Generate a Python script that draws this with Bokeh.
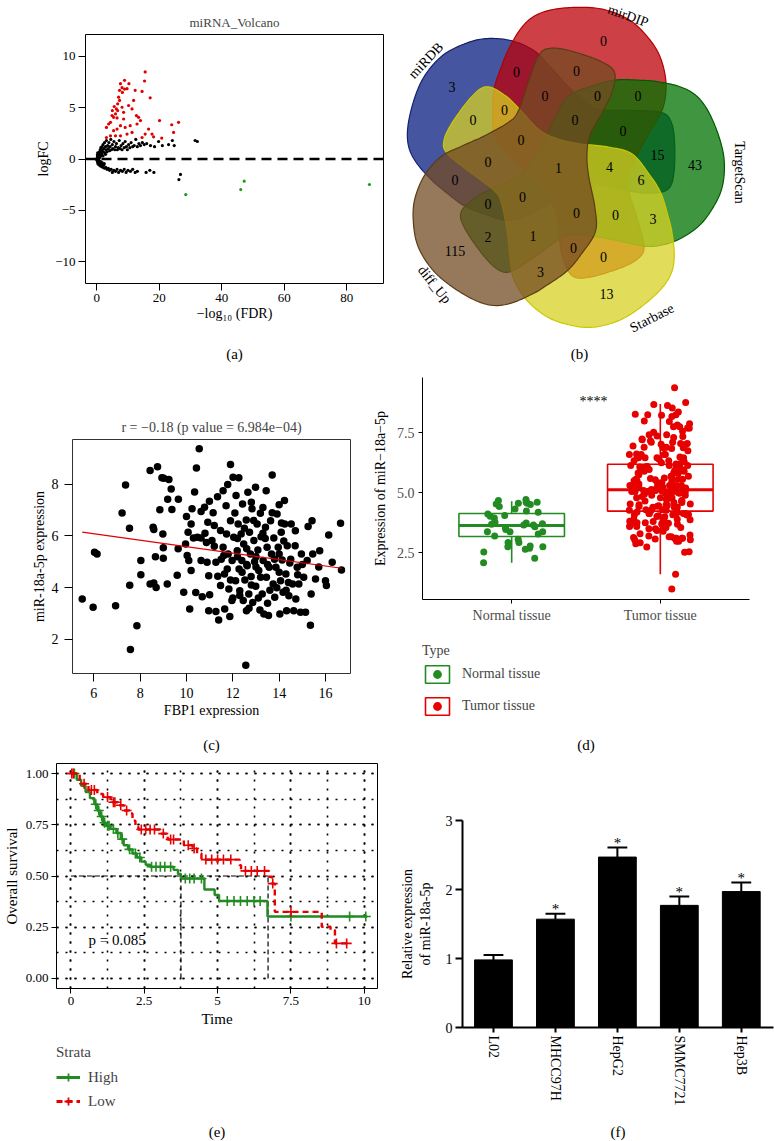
import numpy as np
from bokeh.plotting import figure
from bokeh.layouts import column, row
from bokeh.models import (Span, Legend, LegendItem, ColumnDataSource,
                          NumeralTickFormatter, SingleIntervalTicker, FixedTicker)
from bokeh.core.properties import value
from bokeh.transform import jitter
from bokeh.embed import file_html
from bokeh.resources import INLINE

FONT = "Liberation Serif"

# ---------------------------------------------------------------- data (a)
volc_up = [(15.5, 8.46), (15.3, 7.58), (8.9, 7.65), (10.3, 7.32), (7.6, 7.32), (8.1, 6.93), (8.9, 6.80),
           (8.2, 6.47), (12.3, 6.67), (14.5, 6.57), (7.0, 6.01), (7.3, 5.69), (6.7, 5.36), (6.3, 4.87),
           (6.0, 4.38), (5.4, 4.05), (4.9, 4.22), (17.1, 5.95), (10.2, 5.20), (11.3, 4.87), (8.6, 4.54),
           (12.7, 4.22), (3.8, 3.40), (3.1, 3.07), (4.4, 3.56), (5.4, 2.75), (6.5, 2.91), (7.6, 3.24),
           (8.6, 3.89), (9.1, 3.07), (10.7, 3.24), (12.9, 3.40), (14.0, 3.73), (11.3, 2.58), (9.7, 2.42),
           (7.6, 2.25), (6.0, 2.25), (4.4, 2.25), (3.1, 2.09), (16.6, 2.91), (17.7, 2.42), (20.8, 2.03),
           (20.1, 3.73), (24.0, 3.33), (26.2, 3.56), (24.6, 2.58), (6.5, 3.99), (6.7, 4.71), (5.6, 5.10),
           (5.0, 4.71), (7.3, 6.67), (9.7, 6.83), (11.8, 5.69), (13.4, 4.05), (8.1, 5.03), (14.5, 2.09),
           (15.5, 2.42), (18.2, 2.16)]
volc_ns = [(0.2, 0.1), (0.4, 0.3), (0.5, -0.1), (0.6, 0.5), (0.8, 0.2), (0.9, 0.7), (1.0, 0.4), (1.1, 0.9),
           (1.2, 0.6), (1.3, 1.1), (1.5, 0.8), (1.6, 0.5), (1.7, 1.2), (1.8, 0.9), (2.0, 1.4), (2.1, 0.7),
           (2.3, 1.0), (2.5, 1.6), (2.6, 0.6), (2.8, 1.2), (3.0, 0.9), (3.1, 1.8), (3.3, 0.7), (3.5, 1.3),
           (3.7, 1.0), (3.9, 1.6), (4.1, 0.8), (4.3, 1.2), (4.5, 1.9), (4.7, 0.9), (5.0, 1.4), (5.2, 1.0),
           (5.5, 1.7), (5.8, 0.9), (6.0, 1.2), (6.3, 1.5), (6.6, 0.9), (6.9, 1.1), (7.2, 1.8), (7.5, 1.0),
           (7.8, 1.3), (8.1, 0.9), (8.4, 1.5), (8.8, 1.1), (9.1, 1.7), (9.5, 1.2), (9.8, 0.9), (10.2, 1.4),
           (10.6, 1.1), (11.0, 1.6), (11.5, 1.2), (12.0, 1.3), (12.5, 1.9), (13.0, 1.2), (13.5, 1.5),
           (14.0, 1.3), (14.6, 1.6), (15.2, 1.4), (16.0, 1.5), (17.2, 1.3), (18.5, 1.2), (19.8, 1.7),
           (21.0, 1.3), (23.0, 1.4), (24.2, 1.8), (24.8, 1.3), (31.5, 1.8), (32.2, 1.7),
           (0.3, -0.3), (0.5, -0.5), (0.7, -0.2), (0.9, -0.6), (1.1, -0.4), (1.3, -0.7), (1.6, -0.5),
           (1.9, -0.8), (2.2, -0.6), (2.5, -0.9), (2.9, -0.8), (3.3, -1.0), (3.7, -0.9), (4.1, -1.1),
           (4.6, -1.0), (5.0, -1.3), (5.5, -1.1), (6.0, -1.2), (6.5, -1.0), (7.0, -1.3), (7.6, -1.1),
           (8.2, -1.2), (8.8, -1.0), (9.4, -1.3), (10.0, -1.1), (10.8, -1.2), (11.5, -1.0), (12.3, -1.3),
           (13.0, -1.2), (15.8, -1.3), (17.0, -1.1), (18.3, -1.3), (26.3, -2.0), (26.8, -1.5),
           (0.1, 0.05), (0.15, -0.15), (0.25, 0.25), (0.35, -0.4), (0.45, 0.15), (0.55, 0.35), (0.65, -0.35),
           (0.75, 0.05), (0.85, -0.5), (1.05, 0.2), (1.25, -0.25), (1.45, 0.35), (1.7, -0.35), (2.0, 0.3),
           (2.4, -0.45), (2.8, 0.45), (-0.2, 0.0), (0.1, -0.1), (0.2, 0.4), (0.3, 0.6)]
volc_down = [(28.5, -3.46), (46.1, -2.97), (47.2, -2.16), (87.3, -2.48)]

# ---------------------------------------------------------------- data (b)
venn_sets = ["miRDB", "mirDIP", "TargetScan", "Starbase", "diff_Up"]
venn_regions = ["miRDB", "mirDIP", "TargetScan", "Starbase", "diff_Up",
                "miRDB&mirDIP", "miRDB&TargetScan", "miRDB&Starbase", "miRDB&diff_Up",
                "mirDIP&TargetScan", "mirDIP&Starbase", "mirDIP&diff_Up",
                "TargetScan&Starbase", "TargetScan&diff_Up", "Starbase&diff_Up",
                "miRDB&mirDIP&TargetScan", "miRDB&mirDIP&Starbase", "miRDB&mirDIP&diff_Up",
                "miRDB&TargetScan&Starbase", "miRDB&TargetScan&diff_Up", "miRDB&Starbase&diff_Up",
                "mirDIP&TargetScan&Starbase", "mirDIP&TargetScan&diff_Up", "mirDIP&Starbase&diff_Up",
                "TargetScan&Starbase&diff_Up",
                "miRDB&mirDIP&TargetScan&Starbase", "miRDB&mirDIP&TargetScan&diff_Up",
                "miRDB&mirDIP&Starbase&diff_Up", "miRDB&TargetScan&Starbase&diff_Up",
                "mirDIP&TargetScan&Starbase&diff_Up",
                "miRDB&mirDIP&TargetScan&Starbase&diff_Up"]
venn_counts = [3, 0, 43, 13, 115,
               0, 15, 0, 0,
               0, 0, 0,
               3, 2, 3,
               0, 0, 0,
               6, 0, 0,
               0, 0, 0,
               1,
               4, 0,
               0, 0,
               0,
               1]

# ---------------------------------------------------------------- data (c)
fbp1_mir18a = [
    (5.50, 3.56), (5.97, 3.24), (6.03, 5.37), (6.14, 5.30), (6.94, 3.30), (7.22, 6.89), (7.37, 7.97),
    (7.54, 6.30), (7.55, 4.09), (7.86, 2.53), (7.58, 1.61), (8.03, 5.05), (8.03, 4.50), (8.43, 8.53),
    (8.43, 4.14), (8.56, 6.34), (8.59, 6.25), (8.59, 4.18), (8.66, 5.20), (8.69, 4.01), (8.75, 8.68),
    (8.85, 7.01), (8.94, 8.25), (9.02, 8.23), (8.98, 6.08), (9.00, 5.54), (9.00, 5.14), (9.17, 4.14),
    (9.19, 7.42), (9.24, 8.18), (9.34, 7.82), (9.37, 7.02), (9.60, 4.48), (9.65, 7.42), (9.64, 5.50),
    (9.88, 3.82), (9.96, 5.69), (10.00, 6.75), (10.03, 5.24), (10.07, 6.14), (10.10, 5.05), (10.14, 3.17),
    (10.20, 6.46), (10.20, 4.66), (10.24, 7.05), (10.30, 5.92), (10.35, 7.70), (10.40, 3.81),
    (10.43, 8.63), (10.47, 5.95), (10.55, 9.37), (10.63, 6.95), (10.63, 5.92), (10.63, 5.05),
    (10.68, 3.65), (10.78, 7.11), (10.86, 5.75), (10.89, 4.98), (10.92, 6.53), (10.96, 3.11),
    (10.96, 4.46), (10.99, 7.34), (11.00, 3.73), (11.10, 5.82), (11.15, 6.90), (11.20, 6.40),
    (11.27, 3.08), (11.27, 4.98), (11.34, 7.52), (11.35, 4.44), (11.39, 2.75), (11.47, 6.21),
    (11.47, 4.08), (11.58, 7.75), (11.58, 5.56), (11.61, 5.24), (11.64, 4.53), (11.65, 3.17),
    (11.71, 7.17), (11.73, 6.08), (11.76, 4.72), (11.78, 7.99), (11.83, 3.95), (11.87, 2.88),
    (11.90, 8.76), (11.90, 6.59), (11.96, 3.50), (11.97, 5.05), (12.01, 8.27), (12.04, 5.95),
    (12.09, 6.89), (12.12, 4.27), (12.14, 7.56), (12.19, 5.43), (12.23, 6.46), (12.26, 8.25),
    (12.27, 4.72), (12.30, 3.88), (12.36, 6.08), (12.39, 5.05), (12.42, 7.24), (12.45, 3.50),
    (12.47, 5.69), (12.52, 4.30), (12.56, 1.00), (12.58, 6.62), (12.59, 3.11), (12.62, 4.85),
    (12.65, 7.69), (12.69, 3.75), (12.72, 6.14), (12.76, 5.30), (12.79, 4.43), (12.83, 7.05),
    (12.86, 3.43), (12.91, 5.82), (12.94, 5.00), (12.98, 7.88), (12.99, 4.05), (13.05, 6.46),
    (13.08, 5.46), (13.12, 4.66), (13.17, 3.14), (13.19, 6.88), (13.22, 5.97), (13.27, 3.75),
    (13.31, 5.05), (13.34, 2.98), (13.41, 6.34), (13.44, 7.75), (13.45, 4.40), (13.48, 5.56),
    (13.54, 2.92), (13.57, 4.79), (13.63, 6.59), (13.67, 5.30), (13.70, 8.36), (13.74, 4.14),
    (13.77, 5.92), (13.81, 3.63), (13.86, 4.79), (13.91, 6.85), (13.96, 5.56), (14.00, 7.21),
    (14.03, 2.98), (14.06, 4.27), (14.09, 6.14), (14.13, 5.07), (14.17, 3.82), (14.23, 7.37),
    (14.24, 6.46), (14.29, 4.53), (14.32, 3.11), (14.35, 5.62), (14.42, 3.69), (14.46, 4.95),
    (14.52, 6.46), (14.58, 4.14), (14.63, 3.11), (14.69, 5.62), (14.72, 3.56), (14.78, 4.79),
    (14.85, 4.14), (14.92, 3.05), (14.96, 5.30), (15.06, 4.40), (15.14, 3.05), (15.21, 5.05),
    (15.25, 6.37), (15.35, 2.55), (15.38, 3.75), (15.42, 6.59), (15.45, 5.30), (15.57, 4.33),
    (15.71, 4.80), (15.75, 5.43), (16.00, 4.27), (16.04, 4.08), (16.14, 6.04), (16.29, 4.98),
    (16.65, 6.49), (16.69, 4.68),
    (12.2, 5.9), (12.4, 4.6), (12.6, 5.5), (12.8, 4.1), (13.0, 5.2), (13.2, 4.4), (13.4, 5.9),
    (13.6, 3.9), (13.8, 5.1), (14.0, 4.6), (14.2, 5.8), (14.4, 4.2), (12.3, 3.7), (12.7, 3.2),
    (13.1, 3.6), (13.5, 3.4), (13.9, 4.0), (14.3, 3.9), (12.5, 6.3), (12.9, 6.6), (13.3, 6.1),
    (13.7, 6.9), (14.1, 6.5), (11.8, 5.3), (11.9, 4.3), (12.0, 3.6), (12.2, 5.2), (12.6, 4.9),
    (13.0, 4.8), (13.5, 4.9), (14.0, 5.3), (14.5, 5.1), (14.8, 4.5), (15.0, 4.9), (11.5, 5.1),
    (11.2, 5.6), (10.8, 6.1), (12.8, 7.3), (13.3, 7.1), (14.7, 6.2)]
fit_x = [5.5, 16.7]
fit_y = [6.15, 4.75]
corr_title = "r = \u22120.18 (p value = 6.984e\u221204)"

# ---------------------------------------------------------------- data (d)
groups = ["Normal tissue", "Tumor tissue"]
box_q1 = [3.18, 4.24]
box_med = [3.64, 5.13]
box_q3 = [4.14, 6.19]
box_lo = [2.09, 1.61]
box_hi = [4.65, 8.70]
normal_expr = [4.72, 4.57, 4.54, 4.61, 4.61, 4.51, 4.57, 4.43, 4.33, 4.19, 4.24, 4.06, 4.02, 4.12,
               3.95, 3.71, 3.78, 3.74, 3.74, 3.69, 3.59, 3.66, 3.55, 3.47, 3.38, 3.29, 3.38, 3.38,
               3.20, 3.07, 2.93, 2.93, 2.76, 2.79, 2.76, 2.69, 2.65, 2.54, 2.28, 2.09, 3.66, 4.68]
tumor_expr = [v for _, v in fbp1_mir18a]   # tumour samples: same miR-18a-5p values as (c)
sig_label = "****"

# ---------------------------------------------------------------- data (e)
high_t = [0, 0.2, 0.35, 0.5, 0.65, 0.8, 0.9, 1.0, 1.1, 1.2, 1.35, 1.55, 1.7, 1.8, 1.95, 2.1, 2.25,
          2.4, 2.55, 2.7, 3.5, 3.65, 3.75, 4.55, 4.9, 5.05, 6.7, 10.1]
high_s = [1.0, 0.97, 0.94, 0.91, 0.88, 0.85, 0.82, 0.79, 0.76, 0.745, 0.73, 0.71, 0.68, 0.65, 0.63,
          0.61, 0.59, 0.57, 0.555, 0.545, 0.53, 0.51, 0.488, 0.434, 0.407, 0.378, 0.302, 0.302]
low_t = [0, 0.3, 0.6, 0.9, 1.1, 1.35, 1.6, 1.8, 2.0, 2.1, 2.2, 2.3, 3.05, 3.3, 3.85, 4.15, 4.3, 4.45,
         5.75, 5.8, 6.75, 6.85, 6.95, 8.55, 8.85, 9.0, 9.45]
low_s = [1.0, 0.95, 0.92, 0.90, 0.885, 0.86, 0.845, 0.82, 0.805, 0.77, 0.74, 0.727, 0.707, 0.678,
         0.65, 0.634, 0.61, 0.58, 0.553, 0.525, 0.496, 0.463, 0.325, 0.252, 0.236, 0.171, 0.171]
high_cens = [0.12, 0.85, 0.95, 1.05, 1.15, 1.25, 1.3, 1.45, 1.6, 1.75, 2.0, 2.2, 2.35, 2.75, 2.9, 3.05,
             3.2, 3.4, 3.9, 4.05, 4.2, 4.45, 5.33, 5.56, 5.78, 6.01, 6.24, 6.45, 7.5, 9.5, 10.05]
low_cens = [0.03, 0.08, 0.45, 0.7, 0.8, 1.25, 1.45, 1.5, 1.7, 1.9, 2.4, 2.55, 2.7, 2.85, 3.15, 3.4,
            3.5, 4.0, 4.2, 4.6, 4.8, 5.0, 5.2, 5.45, 5.95, 6.15, 6.35, 6.6, 6.88, 7.5, 9.05, 9.4]
km_median = [3.75, 6.72]
km_pvalue = "p = 0.085"

# ---------------------------------------------------------------- data (f)
cell_lines = ["L02", "MHCC97H", "HepG2", "SMMC7721", "Hep3B"]
rel_expr = [0.98, 1.57, 2.47, 1.77, 1.97]
rel_err = [0.07, 0.08, 0.14, 0.13, 0.13]
rel_sig = [False, True, True, True, True]

# ---------------------------------------------------------------- styles
GREEN = "#228B22"
RED = "#E60000"


def style_axes(p, tick_px="13px", lab_px="14px", tick_out=6, lstand=4, astand=2,
               line=None, line_w=1, tick_color="black"):
    for ax in p.axis:
        ax.axis_line_color = line
        ax.axis_line_width = line_w
        ax.major_tick_out = tick_out
        ax.major_tick_in = 0
        ax.major_tick_line_color = "black"
        ax.major_tick_line_width = line_w
        ax.minor_tick_line_color = None
        ax.major_label_text_font = FONT
        ax.major_label_text_font_size = tick_px
        ax.major_label_text_color = tick_color
        ax.major_label_standoff = lstand
        ax.axis_label_text_font = FONT
        ax.axis_label_text_font_size = lab_px
        ax.axis_label_text_font_style = "normal"
        ax.axis_label_text_color = "black"
        ax.axis_label_standoff = astand


def base_fig(w, h, xr, yr, l, r, t, b, title=None):
    kw = dict(width=w, height=h, x_range=xr, y_range=yr, toolbar_location=None,
              output_backend="svg", min_border_left=l, min_border_right=r,
              min_border_top=t, min_border_bottom=b)
    if title is not None:
        kw["title"] = title
    p = figure(**kw)
    p.grid.visible = False
    if p.title is not None:
        p.title.text_font = FONT
        p.title.text_font_style = "normal"
        p.title.align = "center"
    return p


def blank_fig(w, h, left=0, top=0):
    f = figure(width=w, height=h, x_range=(0, 1), y_range=(0, 1), toolbar_location=None,
               output_backend="svg", min_border_left=left, min_border_top=top,
               min_border_right=0, min_border_bottom=0, outline_line_color=None,
               x_axis_location=None, y_axis_location=None)
    f.grid.visible = False
    return f


def caption(txt, w, h, ypos=0.5):
    c = blank_fig(w, h)
    c.text(x=[0.5], y=[ypos], text=[txt], text_align="center", text_baseline="middle",
           text_font=value(FONT), text_font_size="15px", text_color="black")
    return c


def style_legend(leg, size):
    leg.label_text_font = FONT
    leg.label_text_font_size = size
    leg.title_text_font = FONT
    leg.title_text_font_size = size
    leg.title_text_font_style = "normal"
    leg.border_line_color = None
    leg.background_fill_alpha = 0
    leg.margin = 0
    leg.padding = 0


# ================================================================ (a) volcano
pa = base_fig(384, 343, (-3.6, 91.8), (-12.1, 12.1), 85, 1, 34, 60, "miRNA_Volcano")
pa.title.text_font_size = "13px"
pa.outline_line_color = "black"
style_axes(pa, tick_px="13px", lab_px="14px", tick_out=7, lstand=3, astand=1)
pa.xaxis.ticker = [0, 20, 40, 60, 80]
pa.yaxis.ticker = [-10, -5, 0, 5, 10]
pa.yaxis.major_label_overrides = {-10: "\u221210", -5: "\u22125", 0: "0", 5: "5", 10: "10"}
pa.xaxis.axis_label = "\u2212log\u2081\u2080 (FDR)"
pa.yaxis.axis_label = "logFC"
for pts, col in ((volc_ns, "black"), (volc_up, "#E00000"), (volc_down, "#1E9A1E")):
    xs, ys = zip(*pts)
    pa.scatter(list(xs), list(ys), size=3.2, color=col, line_width=0)
pa.add_layout(Span(location=0, dimension="width", line_color="black", line_width=2.5,
                   line_dash="10 6"))

# ================================================================ (b) Venn
venn_outline = [(-120, 110.3), (-100, 122), (-76.7, 128.7), (-50, 127), (-26.7, 117), (-10, 100.3),
                (6.7, 82), (26.7, 63.7), (40, 57.7), (73.3, 57), (100, 55.3), (110, 47), (114, 27),
                (113.3, -6.3), (106.7, -22.3), (86.7, -25.7), (66.7, -23), (40, -18), (20, -21.3),
                (0, -29.7), (-26.7, -44.7), (-50, -53), (-76.7, -46.3), (-96.7, -38), (-116.7, -23),
                (-128.3, -13), (-143.3, 3.7), (-151.7, 20.3), (-152.7, 40.3), (-146.7, 67),
                (-136.7, 90.3)]
venn_rot_deg = [0, -72, -144, -216, -288]
venn_scale = [1.0, 1.0, 1.0, 1.0, 1.0]
venn_fill = ["#081C80", "#BC0208", "#007300", "#D7D023", "#734B23"]
venn_edge = ["#14206A", "#B00000", "#005A00", "#C8C800", "#5A3C14"]
set_label_deg = [141.5, 66.0, -1.6, -58.7, -137.1]
set_label_r = [172, 166, 179, 176, 172]
set_label_rot = [47, -20, -90, 27, -51]


def catmull_closed(pts, n=14):
    P = np.asarray(pts, dtype=float)
    m = len(P)
    t = np.linspace(0, 1, n, endpoint=False)[:, None]
    segs = []
    for i in range(m):
        p0, p1, p2, p3 = P[(i - 1) % m], P[i], P[(i + 1) % m], P[(i + 2) % m]
        segs.append(0.5 * (2 * p1 + (p2 - p0) * t + (2 * p0 - 5 * p1 + 4 * p2 - p3) * t ** 2
                           + (-p0 + 3 * p1 - 3 * p2 + p3) * t ** 3))
    return np.vstack(segs)


def inside(poly, X, Y):
    px, py = poly[:, 0], poly[:, 1]
    qx, qy = np.roll(px, 1), np.roll(py, 1)
    res = np.zeros(X.shape, dtype=bool)
    for x1, y1, x2, y2 in zip(px, py, qx, qy):
        if y1 == y2:
            continue
        res ^= ((y1 > Y) != (y2 > Y)) & (X < (x2 - x1) * (Y - y1) / (y2 - y1) + x1)
    return res


base_shape = catmull_closed(venn_outline)
shapes = []
for k in range(5):
    a = np.deg2rad(venn_rot_deg[k])
    Rm = np.array([[np.cos(a), -np.sin(a)], [np.sin(a), np.cos(a)]])
    shapes.append(venn_scale[k] * (base_shape @ Rm.T))

pb = figure(width=390, height=343, x_range=(-176, 214), y_range=(-176, 167), toolbar_location=None,
            output_backend="svg", min_border=0, outline_line_color=None,
            x_axis_location=None, y_axis_location=None)
pb.grid.visible = False
for k in range(5):
    pb.patch(shapes[k][:, 0], shapes[k][:, 1], fill_color=venn_fill[k], fill_alpha=0.75,
             line_color=venn_edge[k], line_width=1.2)

gx = np.arange(-176, 214, 1.5)
gy = np.arange(-176, 167, 1.5)
GX, GY = np.meshgrid(gx, gy)
codes = np.zeros(GX.shape, dtype=int)
for k in range(5):
    codes |= inside(shapes[k], GX, GY).astype(int) << k


def erode(m):
    e = m.copy()
    e[1:, :] &= m[:-1, :]
    e[:-1, :] &= m[1:, :]
    e[:, 1:] &= m[:, :-1]
    e[:, :-1] &= m[:, 1:]
    e[0, :] = False
    e[-1, :] = False
    e[:, 0] = False
    e[:, -1] = False
    return e


def label_point(mask):
    depth = np.zeros(mask.shape, dtype=int)
    m = mask.copy()
    d = 0
    while m.any():
        d += 1
        depth[m] = d
        m = erode(m)
    cand = depth >= max(1, 0.55 * depth.max())
    iy, ix = np.nonzero(cand)
    cy, cx = iy.mean(), ix.mean()
    j = np.argmin((iy - cy) ** 2 + (ix - cx) ** 2)
    return gx[ix[j]], gy[iy[j]]


set_index = {n: i for i, n in enumerate(venn_sets)}
lx, ly, lt = [], [], []
for reg, cnt in zip(venn_regions, venn_counts):
    code = sum(1 << set_index[s] for s in reg.split("&"))
    msk = codes == code
    if not msk.any():
        continue
    x0, y0 = label_point(msk)
    lx.append(x0)
    ly.append(y0)
    lt.append(str(cnt))
pb.text(x=lx, y=ly, text=lt, text_align="center", text_baseline="middle",
        text_font=value(FONT), text_font_size="14px", text_color="black")

sx, sy, sa = [], [], []
for k in range(5):
    th = np.deg2rad(set_label_deg[k])
    sx.append(set_label_r[k] * np.cos(th))
    sy.append(set_label_r[k] * np.sin(th))
    sa.append(np.deg2rad(set_label_rot[k]))
pb.text(x=sx, y=sy, text=venn_sets, angle=sa, text_align="center", text_baseline="middle",
        text_font=value(FONT), text_font_size="14px", text_color="black")

# ================================================================ (c) correlation
pc = base_fig(365, 370, (5.08, 17.08), (0.68, 9.73), 72, 15, 76, 60, corr_title)
pc.title.text_font_size = "14px"
pc.outline_line_color = "#333333"
style_axes(pc, tick_px="14px", lab_px="14px", tick_out=8, lstand=6, astand=2)
pc.xaxis.ticker = [6, 8, 10, 12, 14, 16]
pc.yaxis.ticker = [2, 4, 6, 8]
pc.xaxis.axis_label = "FBP1 expression"
pc.yaxis.axis_label = "miR-18a-5p expression"
cx_, cy_ = zip(*fbp1_mir18a)
pc.scatter(list(cx_), list(cy_), size=7.5, color="black", line_width=0)
pc.line(fit_x, fit_y, line_color="#E00000", line_width=1.2)

# ================================================================ (d) boxplot
pdd = base_fig(409, 269, (0.4, 2.6), (0.56, 9.8), 57, 25, 14, 33)
pdd.outline_line_color = None
style_axes(pdd, tick_px="14px", lab_px="14px", tick_out=4, lstand=4, astand=6,
           line="black", line_w=1, tick_color="#4D4D4D")
pdd.xaxis.ticker = [1, 2]
pdd.xaxis.major_label_overrides = {1: groups[0], 2: groups[1]}
pdd.yaxis.ticker = [2.5, 5.0, 7.5]
pdd.yaxis.major_label_overrides = {2.5: "2.5", 5: "5.0", 7.5: "7.5"}
pdd.yaxis.axis_label = "Expression of miR\u221218a\u22125p"

ld = blank_fig(409, 101, left=57, top=11)
legend_items = []
for i, (vals, col) in enumerate(((normal_expr, GREEN), (tumor_expr, RED))):
    xc = i + 1
    src = ColumnDataSource(dict(x=[xc] * len(vals), y=vals))
    pdd.scatter(x=jitter("x", width=0.42), y="y", source=src, size=7, color=col, line_width=0)
    pdd.quad(left=[xc - 0.355], right=[xc + 0.355], bottom=[box_q1[i]], top=[box_q3[i]],
             fill_color=None, line_color=col, line_width=1.6)
    pdd.segment(x0=[xc, xc], y0=[box_q3[i], box_q1[i]], x1=[xc, xc], y1=[box_hi[i], box_lo[i]],
                line_color=col, line_width=1.6)
    pdd.segment(x0=[xc - 0.355], y0=[box_med[i]], x1=[xc + 0.355], y1=[box_med[i]],
                line_color=col, line_width=3)
    # legend keys (kept off-range in the legend strip)
    kb = ld.quad(left=[-3], right=[-2], bottom=[-3], top=[-2], fill_color=None,
                 line_color=col, line_width=1.6)
    kp = ld.scatter([-2.5], [-2.5], size=7, color=col, line_width=0)
    legend_items.append(LegendItem(label=groups[i], renderers=[kb, kp]))
pdd.text(x=[1.55], y=[8.8], text=[sig_label], text_align="center", text_baseline="middle",
         text_font=value(FONT), text_font_size="14px", text_color="black")
leg_d = Legend(items=legend_items, title="Type", location="top_left", orientation="vertical",
               spacing=10, glyph_width=30, glyph_height=22, label_height=22,
               label_standoff=10, title_standoff=4)
style_legend(leg_d, "14px")
ld.add_layout(leg_d)

# ================================================================ (e) Kaplan-Meier
pe = base_fig(390, 277, (-0.49, 10.45), (-0.049, 1.049), 56, 13, 8, 44)
pe.outline_line_color = "black"
style_axes(pe, tick_px="13px", lab_px="15px", tick_out=5, lstand=3, astand=3)
pe.xaxis.ticker = SingleIntervalTicker(interval=2.5, num_minor_ticks=2)
pe.yaxis.ticker = SingleIntervalTicker(interval=0.25, num_minor_ticks=2)
pe.xaxis.major_label_overrides = {0: "0", 2.5: "2.5", 5: "5", 7.5: "7.5", 10: "10"}
pe.yaxis.formatter = NumeralTickFormatter(format="0.00")
pe.xaxis.axis_label = "Time"
pe.yaxis.axis_label = "Overall survival"
pe.grid.visible = True
for g in pe.grid:
    g.grid_line_color = "black"
    g.grid_line_dash = "2 7"
    g.grid_line_width = 1.6
    g.minor_grid_line_color = "black"
    g.minor_grid_line_dash = "2 7"
    g.minor_grid_line_width = 1.6

pe.segment(x0=km_median, y0=[0, 0], x1=km_median, y1=[0.5, 0.5], line_color="black",
           line_dash="5 3", line_width=1.2)
pe.segment(x0=[0], y0=[0.5], x1=[max(km_median)], y1=[0.5], line_color="black",
           line_dash="5 3", line_width=1.2)

le = blank_fig(390, 81, left=56, top=12)
km_items = []
for lab, tt, ss, cens, col, dash in (("High", high_t, high_s, high_cens, GREEN, "solid"),
                                     ("Low", low_t, low_s, low_cens, RED, "6 4")):
    pe.step(tt, ss, mode="after", line_color=col, line_width=2.4, line_dash=dash)
    idx = np.searchsorted(np.array(tt), np.array(cens), side="right") - 1
    cs = [ss[i] for i in idx]
    pe.scatter(cens, cs, marker="cross", size=10, line_color=col, line_width=1.6)
    kl = le.line([-3, -2], [-3, -3], line_color=col, line_width=3, line_dash=dash)
    km = le.scatter([-2.5], [-3], marker="cross", size=10, line_color=col, line_width=1.8)
    km_items.append(LegendItem(label=lab, renderers=[kl, km]))
pe.text(x=[0.6], y=[0.19], text=[km_pvalue], text_align="left", text_baseline="middle",
        text_font=value(FONT), text_font_size="15px", text_color="black")
leg_e = Legend(items=km_items, title="Strata", location="top_left", orientation="vertical",
               spacing=4, glyph_width=24, glyph_height=20, label_height=20,
               label_standoff=8, title_standoff=6)
style_legend(leg_e, "15px")
le.add_layout(leg_e)

# ================================================================ (f) bars
pf = base_fig(384, 358, (-0.5, 4.52), (0, 3), 72, 1, 65, 86)
pf.outline_line_color = None
style_axes(pf, tick_px="14px", lab_px="14px", tick_out=7, lstand=3, astand=10,
           line="black", line_w=2)
pf.xaxis.major_tick_out = 5
pf.xaxis.ticker = FixedTicker(ticks=list(range(len(cell_lines))))
pf.xaxis.major_label_overrides = {i: c for i, c in enumerate(cell_lines)}
pf.xaxis.major_label_orientation = "vertical"
pf.yaxis.ticker = [0, 1, 2, 3]
pf.yaxis.axis_label = "Relative expression\nof miR-18a-5p"
xi = list(range(len(cell_lines)))
pf.vbar(x=xi, top=rel_expr, width=0.61, bottom=0, fill_color="black", line_color="black")
err_top = [v + e for v, e in zip(rel_expr, rel_err)]
pf.segment(x0=xi, y0=rel_expr, x1=xi, y1=err_top, line_color="black", line_width=2)
pf.segment(x0=[x - 0.16 for x in xi], y0=err_top, x1=[x + 0.16 for x in xi], y1=err_top,
           line_color="black", line_width=2)
star_x = [x for x, s in zip(xi, rel_sig) if s]
star_y = [t + 0.07 for t, s in zip(err_top, rel_sig) if s]
pf.text(x=star_x, y=star_y, text=["*"] * len(star_x), text_align="center",
        text_baseline="alphabetic", text_font=value(FONT), text_font_size="15px",
        text_color="black")

# ================================================================ layout
layout = column(
    row(column(pa, caption("(a)", 384, 20)), column(pb, caption("(b)", 390, 20))),
    row(column(pc, caption("(c)", 365, 22)), column(pdd, ld, caption("(d)", 409, 22))),
    row(column(pe, le, caption("(e)", 390, 28, 0.34)), column(pf, caption("(f)", 384, 28, 0.34))),
)

open("out.html", "w").write(file_html(layout, INLINE))
